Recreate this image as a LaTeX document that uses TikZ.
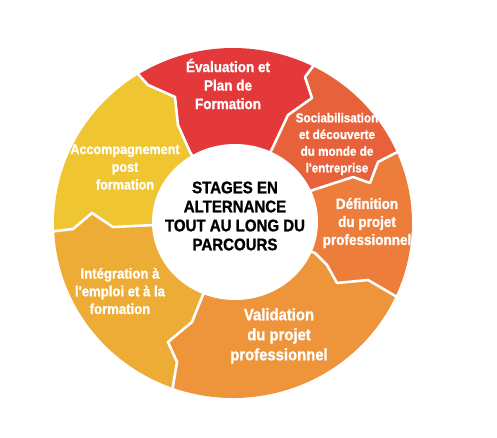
\documentclass[tikz,border=0pt]{standalone}
\usepackage{fontspec}
\usetikzlibrary{calc}
\newfontfamily\cf{Liberation Sans}[FakeStretch=0.9,BoldFeatures={FakeBold=1.2}]
\definecolor{evalc}{RGB}{228,57,58}
\definecolor{socc}{RGB}{231,98,58}
\definecolor{defc}{RGB}{236,125,59}
\definecolor{valc}{RGB}{238,148,58}
\definecolor{intc}{RGB}{237,172,54}
\definecolor{accc}{RGB}{240,197,50}
\tikzset{
  sep/.style={draw=white,line width=2.6pt,line join=round},
  lbl/.style={text=white,align=center,inner sep=0pt},
}
\begin{document}
\begin{tikzpicture}[x=1pt,y=1pt]
\useasboundingbox (-233,-214) rectangle (264,223);
% outer points
\coordinate (O1) at (122.4:179 and 175);
\coordinate (O2) at (63:179 and 175);
\coordinate (O3) at (24:179 and 175);
\coordinate (O4) at (-25:179 and 175);
\coordinate (O5) at (-109.2:179 and 175);
\coordinate (O6) at (182.9:179 and 175);
% Definition
\fill[defc] (0,0) -- (82,-30) -- (94,-42) -- (104,-60) -- (135,-57) -- (O4)
  arc[start angle=-25,end angle=24,x radius=179,y radius=175]
  -- (145,61) -- (137,40) -- (120,46) -- (80,33) -- cycle;
% Sociabilisation
\fill[socc] (0,0) -- (80,33) -- (120,46) -- (137,40) -- (145,61) -- (O3)
  arc[start angle=24,end angle=63,x radius=179,y radius=175]
  -- (72,146) -- (79,125) -- (55,108) -- (40,76) -- cycle;
% Evaluation
\fill[evalc] (0,0) -- (40,76) -- (55,108) -- (79,125) -- (72,146) -- (O2)
  arc[start angle=63,end angle=122.4,x radius=179,y radius=175]
  -- (-85,138) -- (-58,126) -- (-55,98) -- (-43,71) -- cycle;
% Accompagnement
\fill[accc] (0,0) -- (-43,71) -- (-55,98) -- (-58,126) -- (-85,138) -- (O1)
  arc[start angle=122.4,end angle=182.9,x radius=179,y radius=175]
  -- (-160,-6) -- (-141,10) -- (-120,-4) -- (-78,-2) -- cycle;
% Integration
\fill[intc] (0,0) -- (-78,-2) -- (-120,-4) -- (-141,10) -- (-160,-6) -- (O6)
  arc[start angle=182.9,end angle=250.8,x radius=179,y radius=175]
  -- (-56,-139) -- (-65,-119) -- (-41,-99) -- (-33,-79) -- cycle;
% Validation
\fill[valc] (0,0) -- (-33,-79) -- (-41,-99) -- (-65,-119) -- (-56,-139) -- (O5)
  arc[start angle=-109.2,end angle=-25,x radius=179,y radius=175]
  -- (135,-57) -- (104,-60) -- (94,-42) -- (82,-30) -- cycle;
% separators
\draw[sep] (0,0) -- (-43,71) -- (-55,98) -- (-58,126) -- (-85,138) -- ($(O1)!-0.05!(0,0)$);
\draw[sep] (0,0) -- (40,76) -- (55,108) -- (79,125) -- (72,146) -- ($(O2)!-0.05!(0,0)$);
\draw[sep] (0,0) -- (80,33) -- (120,46) -- (137,40) -- (145,61) -- ($(O3)!-0.05!(0,0)$);
\draw[sep] (0,0) -- (82,-30) -- (94,-42) -- (104,-60) -- (135,-57) -- ($(O4)!-0.05!(0,0)$);
\draw[sep] (0,0) -- (-33,-79) -- (-41,-99) -- (-65,-119) -- (-56,-139) -- ($(O5)!-0.05!(0,0)$);
\draw[sep] (0,0) -- (-78,-2) -- (-120,-4) -- (-141,10) -- (-160,-6) -- ($(O6)!-0.05!(0,0)$);
% inner disc
\fill[white] (2,1) ellipse[x radius=83,y radius=78];
% labels
\node[lbl,font={\cf\bfseries\fontsize{15}{18.5}\selectfont}] (eval) at (-5,139) {Évaluation et\\Plan de\\Formation};
\node[lbl,font={\cf\bfseries\fontsize{13}{16.7}\selectfont}] (soc) at (104,79) {Sociabilisation\\et découverte\\du monde de\\l'entreprise};
\node[lbl,font={\cf\bfseries\fontsize{15}{18}\selectfont}] (def) at (134,0) {Définition\\du projet\\professionnel};
\node[lbl,font={\cf\bfseries\fontsize{16.5}{20}\selectfont}] (val) at (46,-113) {Validation\\du projet\\professionnel};
\node[lbl,font={\cf\bfseries\fontsize{14.6}{17.7}\selectfont}] (int) at (-113,-68) {Intégration à\\l'emploi et à la\\formation};
\node[lbl,font={\cf\bfseries\fontsize{14}{17.7}\selectfont}] (acc) at (-108,56) {Accompagnement\\post\\formation};
\node[align=center,inner sep=0pt,text=black,font={\cf\bfseries\fontsize{16.7}{19}\selectfont}] (ctr) at (2,7) {STAGES EN\\ALTERNANCE\\TOUT AU LONG DU\\PARCOURS};
\end{tikzpicture}
\end{document}
